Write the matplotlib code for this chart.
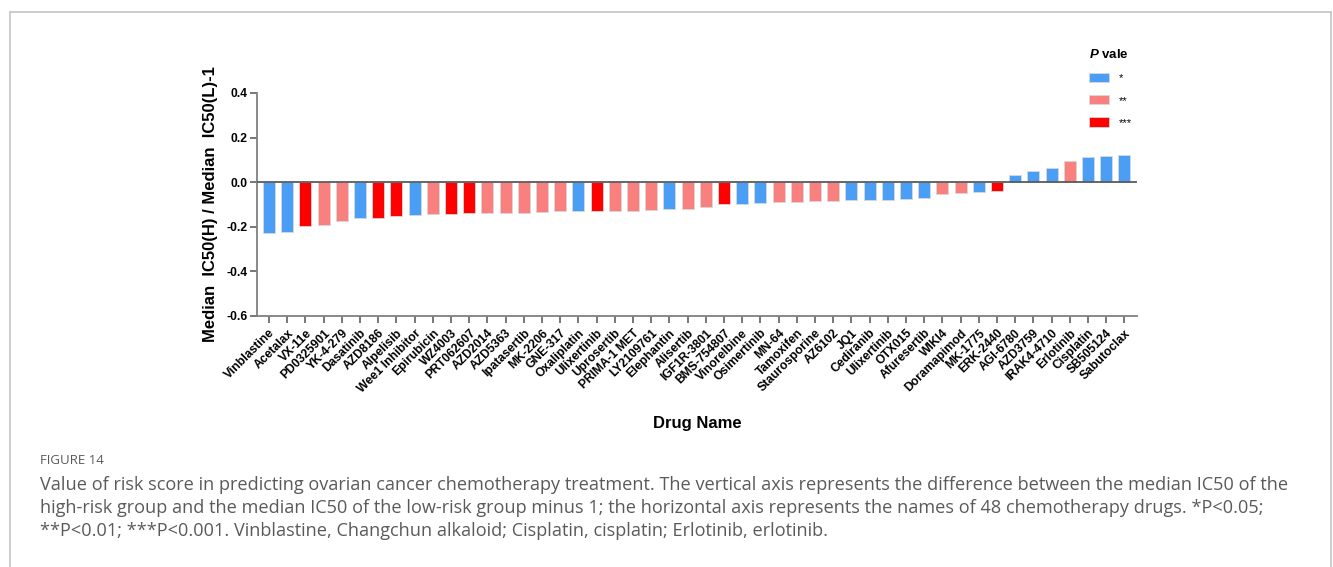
import matplotlib
matplotlib.use("Agg")
import matplotlib.pyplot as plt
from matplotlib.patches import Patch
from matplotlib.lines import Line2D

plt.rcParams["font.family"] = ["Liberation Sans", "DejaVu Sans"]
plt.rcParams["mathtext.fontset"] = "custom"
plt.rcParams["mathtext.bfit"] = "Liberation Sans:italic:bold"
plt.rcParams["mathtext.bf"] = "Liberation Sans:bold"

# Drug names, effect values and significance level (1 = *, 2 = **, 3 = ***)
drugs = [
    "Vinblastine", "Acetalax", "VX-11e", "PD0325901", "YK-4-279", "Dasatinib",
    "AZD8186", "Alpelisib", "Wee1 Inhibitor", "Epirubicin", "WZ4003", "PRT062607",
    "AZD2014", "AZD5363", "Ipatasertib", "MK-2206", "GNE-317", "Oxaliplatin",
    "Ulixertinib", "Uprosertib", "PRIMA-1 MET", "LY2109761", "Elephantin",
    "Alisertib", "IGF1R-3801", "BMS-754807", "Vinorelbine", "Osimertinib",
    "MN-64", "Tamoxifen", "Staurosporine", "AZ6102", "JQ1", "Cediranib",
    "Ulixertinib", "OTX015", "Afuresertib", "WIKI4", "Doramapimod", "MK-1775",
    "ERK-2440", "AGI-6780", "AZD3759", "IRAK4-4710", "Erlotinib", "Cisplatin",
    "SB505124", "Sabutoclax",
]
ratio = [
    -0.228, -0.223, -0.198, -0.192, -0.174, -0.160, -0.160, -0.150, -0.147,
    -0.142, -0.142, -0.139, -0.139, -0.136, -0.136, -0.135, -0.130, -0.130,
    -0.127, -0.129, -0.129, -0.126, -0.121, -0.118, -0.111, -0.100, -0.100,
    -0.094, -0.091, -0.090, -0.085, -0.085, -0.082, -0.082, -0.078, -0.075,
    -0.072, -0.055, -0.049, -0.043, -0.039, 0.031, 0.048, 0.064, 0.093,
    0.114, 0.117, 0.123,
]
signif = [
    1, 1, 3, 2, 2, 1, 3, 3, 1, 2, 3, 3, 2, 2, 2, 2, 2, 1, 3, 2, 2, 2, 1, 2,
    2, 3, 1, 1, 2, 2, 2, 2, 1, 1, 1, 1, 1, 2, 2, 1, 3, 1, 1, 1, 2, 1, 1, 1,
]
level_labels = ["*", "**", "***"]
level_colors = {1: "#4B9EF6", 2: "#FA8080", 3: "#FF0000"}

fig = plt.figure(figsize=(13.33, 5.67), dpi=100)
ax = fig.add_axes([0.1928, 0.4427, 0.853 - 0.1928, 0.836 - 0.4427])

x = list(range(len(drugs)))
ax.bar(x, ratio, width=0.66, color=[level_colors[s] for s in signif],
       edgecolor="#d8d8d8", linewidth=0.6, zorder=2)
ax.axhline(0, color="#5a5a5a", linewidth=1.3, zorder=3)

ax.set_xlim(-0.66, len(drugs) - 1 + 0.7)
ax.set_ylim(-0.6, 0.4)
ax.set_yticks([0.4, 0.2, 0.0, -0.2, -0.4, -0.6])
ax.set_yticklabels(["0.4", "0.2", "0.0", "-0.2", "-0.4", "-0.6"],
                   fontsize=8.7, fontweight="bold")
ax.set_xticks(x)
ax.set_xticklabels(drugs, rotation=45, ha="right", rotation_mode="anchor",
                   fontsize=8.7, fontweight="bold")

for side in ("top", "right"):
    ax.spines[side].set_visible(False)
for side in ("left", "bottom"):
    ax.spines[side].set_color("#808080")
    ax.spines[side].set_linewidth(1.3)
ax.tick_params(axis="both", color="#606060", width=1.2, length=5)
ax.tick_params(axis="x", pad=3)
ax.tick_params(axis="y", pad=2)

ax.set_ylabel("Median  IC50(H) / Median  IC50(L)-1", fontsize=12,
              fontweight="bold", labelpad=6)
ax.set_xlabel("Drug Name", fontsize=12, fontweight="bold", labelpad=15)

handles = [Patch(facecolor=level_colors[i + 1], edgecolor="#d8d8d8",
                 linewidth=0.6) for i in range(3)]
leg = ax.legend(handles, level_labels, loc="upper left",
                bbox_to_anchor=(1085 / 1333, 1 - 44 / 567),
                bbox_transform=fig.transFigure, frameon=False,
                fontsize=8, title=r"$\mathbfit{P}$ vale",
                title_fontproperties={"weight": "bold", "size": 9.5},
                handlelength=1.75, handleheight=0.9, labelspacing=1.05,
                handletextpad=0.9, alignment="left", borderaxespad=0)

# Panel frame (open at the bottom)
frame_color = "#c8c8c8"
fig.add_artist(Line2D([9.5 / 1333, 9.5 / 1333], [0, 1 - 11.5 / 567],
                      transform=fig.transFigure, color=frame_color, lw=1.3))
fig.add_artist(Line2D([9.5 / 1333, 1331 / 1333], [1 - 11.5 / 567, 1 - 11.5 / 567],
                      transform=fig.transFigure, color=frame_color, lw=1.3))
fig.add_artist(Line2D([1331 / 1333, 1331 / 1333], [0, 1 - 11.5 / 567],
                      transform=fig.transFigure, color=frame_color, lw=1.3))

caption_color = "#5a5a5a"
fig.text(40 / 1333, 1 - 461 / 567, "FIGURE 14", fontsize=9.5,
         color=caption_color, family="Open Sans", va="center")
caption = [
    "Value of risk score in predicting ovarian cancer chemotherapy treatment. "
    "The vertical axis represents the difference between the median IC50 of the",
    "high-risk group and the median IC50 of the low-risk group minus 1; the "
    "horizontal axis represents the names of 48 chemotherapy drugs. *P<0.05;",
    "**P<0.01; ***P<0.001. Vinblastine, Changchun alkaloid; Cisplatin, "
    "cisplatin; Erlotinib, erlotinib.",
]
for i, line in enumerate(caption):
    fig.text(40 / 1333, 1 - (485 + 23 * i) / 567, line, fontsize=13.1,
             color=caption_color, family="Open Sans", va="center")

fig.savefig("out.png", dpi=100)
